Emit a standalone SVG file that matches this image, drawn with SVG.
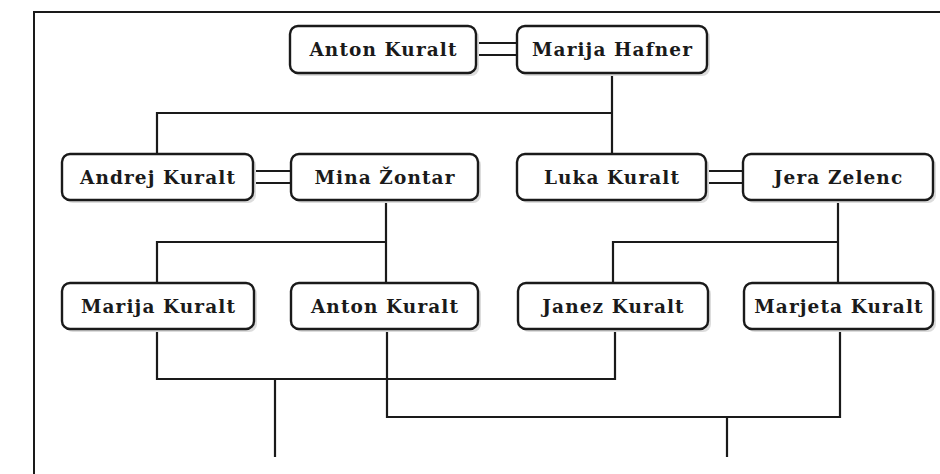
<svg xmlns="http://www.w3.org/2000/svg" width="940" height="474" viewBox="0 0 940 474">
<defs>
<style>
.shadow{fill:#dcdcdc;}
.box{fill:#ffffff;stroke:#1a1a1a;stroke-width:2.4;}
.lbl{font-family:"DejaVu Serif","Liberation Serif",serif;font-weight:bold;font-size:18.5px;letter-spacing:1.1px;fill:#1a1a1a;text-anchor:middle;}
.ln{fill:none;stroke:#1a1a1a;stroke-width:2.2;}
</style>
</defs>
<rect x="0" y="0" width="940" height="474" fill="#ffffff"/>
<path class="ln" d="M34,474 V12 H940" style="stroke-width:2"/>
<g id="connectors">
<path class="ln" d="M476,43 H517 M476,55 H517"/>
<path class="ln" d="M253,171 H291 M253,183 H291"/>
<path class="ln" d="M706,171 H743 M706,183 H743"/>
<path class="ln" d="M612,73 V154 M157,154 V113 H612"/>
<path class="ln" d="M386,200 V283 M157,283 V242 H386"/>
<path class="ln" d="M838,200 V283 M613,283 V242 H838"/>
<path class="ln" d="M157,329 V379 H615 V329 M275,379 V457"/>
<path class="ln" d="M387,329 V417 H840 V329 M727,417 V457"/>
</g>
<g id="n-anton-kuralt-1">
<rect class="shadow" x="293" y="29" width="186" height="47" rx="8"/>
<rect class="box" x="290" y="26" width="186" height="47" rx="8"/>
<text class="lbl" x="383.5" y="56">Anton Kuralt</text>
</g>
<g id="n-marija-hafner">
<rect class="shadow" x="520" y="29" width="190" height="47" rx="8"/>
<rect class="box" x="517" y="26" width="190" height="47" rx="8"/>
<text class="lbl" x="612.5" y="56">Marija Hafner</text>
</g>
<g id="n-andrej-kuralt">
<rect class="shadow" x="65" y="157" width="191" height="46" rx="8"/>
<rect class="box" x="62" y="154" width="191" height="46" rx="8"/>
<text class="lbl" x="158" y="183.5">Andrej Kuralt</text>
</g>
<g id="n-mina-zontar">
<rect class="shadow" x="294" y="157" width="187" height="46" rx="8"/>
<rect class="box" x="291" y="154" width="187" height="46" rx="8"/>
<text class="lbl" x="385" y="183.5">Mina Žontar</text>
</g>
<g id="n-luka-kuralt">
<rect class="shadow" x="520" y="157" width="189" height="46" rx="8"/>
<rect class="box" x="517" y="154" width="189" height="46" rx="8"/>
<text class="lbl" x="612" y="183.5">Luka Kuralt</text>
</g>
<g id="n-jera-zelenc">
<rect class="shadow" x="746" y="157" width="190" height="46" rx="8"/>
<rect class="box" x="743" y="154" width="190" height="46" rx="8"/>
<text class="lbl" x="838.5" y="183.5">Jera Zelenc</text>
</g>
<g id="n-marija-kuralt">
<rect class="shadow" x="65" y="286" width="192" height="46" rx="8"/>
<rect class="box" x="62" y="283" width="192" height="46" rx="8"/>
<text class="lbl" x="158.5" y="312.5">Marija Kuralt</text>
</g>
<g id="n-anton-kuralt-2">
<rect class="shadow" x="294" y="286" width="187" height="46" rx="8"/>
<rect class="box" x="291" y="283" width="187" height="46" rx="8"/>
<text class="lbl" x="385" y="312.5">Anton Kuralt</text>
</g>
<g id="n-janez-kuralt">
<rect class="shadow" x="521" y="286" width="190" height="46" rx="8"/>
<rect class="box" x="518" y="283" width="190" height="46" rx="8"/>
<text class="lbl" x="613.5" y="312.5">Janez Kuralt</text>
</g>
<g id="n-marjeta-kuralt">
<rect class="shadow" x="747" y="286" width="189" height="46" rx="8"/>
<rect class="box" x="744" y="283" width="189" height="46" rx="8"/>
<text class="lbl" x="839" y="312.5">Marjeta Kuralt</text>
</g>
</svg>
